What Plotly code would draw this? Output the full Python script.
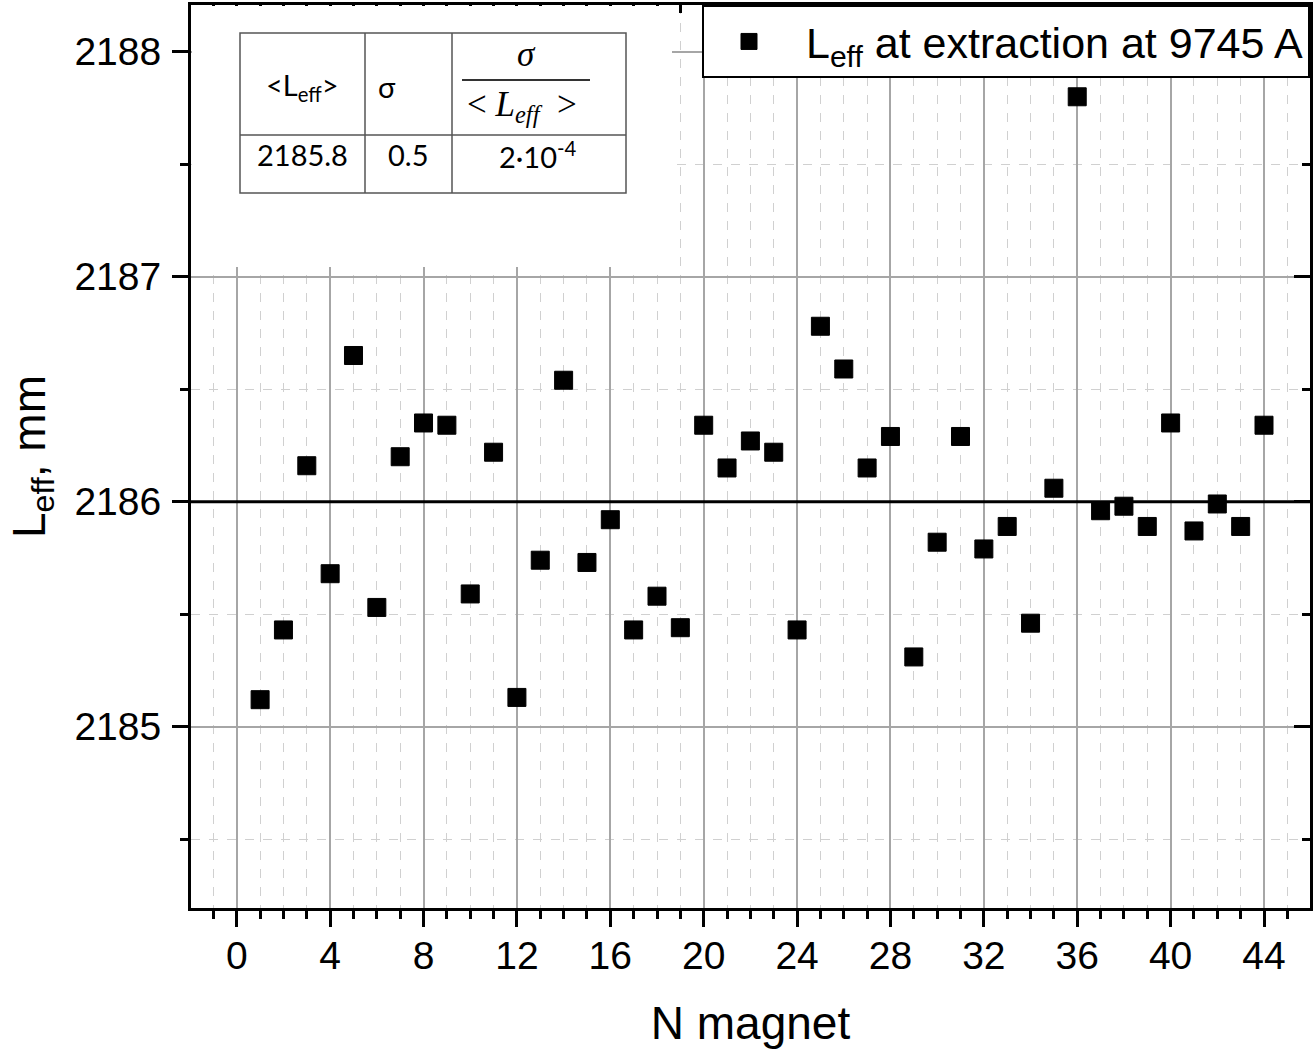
import plotly.graph_objects as go

# ---------------- data ----------------
n_magnet = list(range(1, 45))
l_eff = [2185.12, 2185.43, 2186.16, 2185.68, 2186.65, 2185.53, 2186.20, 2186.35, 2186.34, 2185.59,
         2186.22, 2185.13, 2185.74, 2186.54, 2185.73, 2185.92, 2185.43, 2185.58, 2185.44, 2186.34,
         2186.15, 2186.27, 2186.22, 2185.43, 2186.78, 2186.59, 2186.15, 2186.29, 2185.31, 2185.82,
         2186.29, 2185.79, 2185.89, 2185.46, 2186.06, 2187.80, 2185.96, 2185.98, 2185.89, 2186.35,
         2185.87, 2185.99, 2185.89, 2186.34]
reference_level = 2186
x_range = [-1.96, 45.97]
y_range = [2184.194, 2188.208]
series_name = "&nbsp;L<sub>eff</sub> at extraction at 9745 A"
table_header = ["&lt;L<sub>eff</sub>&gt;", "σ"]
table_values = ["2185.8", "0.5", "2·10<sup>-4</sup>"]

W, H = 1316, 1051
L, R, T, B = 191, 1310, 5, 908


def px(p):
    return (p - L) / (R - L)


def py(p):
    return (B - p) / (B - T)


fig = go.Figure()
fig.add_trace(go.Scatter(
    x=n_magnet, y=l_eff, mode="markers", name=series_name,
    marker=dict(symbol="square", size=18, color="black", line=dict(color="black", width=1)),
))
# empty trace to anchor mirror axes
fig.add_trace(go.Scatter(x=[], y=[], xaxis="x2", yaxis="y2", showlegend=False, hoverinfo="skip"))

axis_font = dict(family="Liberation Sans, Arial, sans-serif", size=39, color="black")
title_font = dict(family="Liberation Sans, Arial, sans-serif", size=46, color="black")

fig.update_layout(
    width=W, height=H,
    margin=dict(l=L, r=W - R, t=T, b=H - B, autoexpand=False),
    paper_bgcolor="white", plot_bgcolor="white",
    xaxis=dict(
        range=x_range, tick0=0, dtick=4, ticks="outside", ticklen=16, tickwidth=3, tickcolor="black",
        showline=True, linewidth=3, linecolor="black", tickfont=axis_font, automargin=False,
        ticklabelstandoff=-5,
        showgrid=True, gridcolor="#a6a6a6", gridwidth=1.5, zeroline=False,
        title=dict(text="N magnet", font=title_font, standoff=32),
        minor=dict(tick0=0, dtick=1, ticks="outside", ticklen=8, tickwidth=3, tickcolor="black",
                   showgrid=True, gridcolor="#d0d0d0", gridwidth=1, griddash="dash"),
    ),
    yaxis=dict(
        range=y_range, tick0=2185, dtick=1, ticks="outside", ticklen=16, tickwidth=3, tickcolor="black",
        showline=True, linewidth=3, linecolor="black", tickfont=axis_font, automargin=False,
        ticklabelstandoff=3,
        showgrid=True, gridcolor="#a6a6a6", gridwidth=1.5, zeroline=False,
        title=dict(text="L<sub>eff</sub>, mm", font=title_font, standoff=15),
        minor=dict(tick0=2184.5, dtick=0.5, ticks="outside", ticklen=8, tickwidth=3, tickcolor="black",
                   showgrid=True, gridcolor="#d0d0d0", gridwidth=1, griddash="dash"),
    ),
    xaxis2=dict(
        overlaying="x", side="top", anchor="y", range=x_range, tick0=0, dtick=4, automargin=False,
        ticks="inside", ticklen=16, tickwidth=3, tickcolor="black", showticklabels=False,
        showline=True, linewidth=3, linecolor="black", showgrid=False, zeroline=False,
        minor=dict(tick0=0, dtick=1, ticks="inside", ticklen=8, tickwidth=3, tickcolor="black", showgrid=False),
    ),
    yaxis2=dict(
        overlaying="y", side="right", anchor="x", range=y_range, tick0=2185, dtick=1, automargin=False,
        ticks="inside", ticklen=16, tickwidth=3, tickcolor="black", showticklabels=False,
        showline=True, linewidth=3, linecolor="black", showgrid=False, zeroline=False,
        minor=dict(tick0=2184.5, dtick=0.5, ticks="inside", ticklen=8, tickwidth=3, tickcolor="black", showgrid=False),
    ),
    legend=dict(
        x=1, xanchor="right", y=1, yanchor="top",
        bgcolor="white", bordercolor="black", borderwidth=2,
        font=dict(family="Liberation Sans, Arial, sans-serif", size=43, color="black"),
        itemwidth=80,
    ),
    showlegend=True,
)

shapes = []
# reference line at 2186
shapes.append(dict(type="line", xref="paper", yref="y", x0=0, x1=1, y0=reference_level, y1=reference_level,
                   line=dict(color="black", width=3), layer="above"))
# white area behind the table (covers grid)
shapes.append(dict(type="rect", xref="paper", yref="paper", x0=px(L + 1), x1=px(672), y0=py(267), y1=py(T + 1),
                   fillcolor="white", line=dict(width=0), layer="above"))
# table borders
tcol = "#555555"
shapes.append(dict(type="rect", xref="paper", yref="paper", x0=px(240), x1=px(626), y0=py(193), y1=py(33),
                   fillcolor="white", line=dict(color=tcol, width=1.5), layer="above"))
for xv in (365, 452):
    shapes.append(dict(type="line", xref="paper", yref="paper", x0=px(xv), x1=px(xv), y0=py(193), y1=py(33),
                       line=dict(color=tcol, width=1.5), layer="above"))
shapes.append(dict(type="line", xref="paper", yref="paper", x0=px(240), x1=px(626), y0=py(135), y1=py(135),
                   line=dict(color=tcol, width=1.5), layer="above"))
# fraction bar
shapes.append(dict(type="line", xref="paper", yref="paper", x0=px(462), x1=px(590), y0=py(80), y1=py(80),
                   line=dict(color="#333333", width=2), layer="above"))
fig.update_layout(shapes=shapes)

tfont = dict(family="Lato, Open Sans, sans-serif", size=29, color="black")
mfont = dict(family="Liberation Serif, DejaVu Serif, serif", size=35, color="black")
ann = [
    dict(x=px(302), y=py(86), text=table_header[0], font=tfont),
    dict(x=px(376), y=py(86), text=table_header[1], font=tfont, xanchor="left"),
    dict(x=px(526), y=py(55), text="<i>σ</i>", font=mfont),
    dict(x=px(522), y=py(106), text="&lt;&nbsp;<i>L<sub>eff</sub></i>&nbsp;&nbsp;&gt;", font=mfont),
    dict(x=px(302), y=py(155), text=table_values[0], font=tfont),
    dict(x=px(408), y=py(155), text=table_values[1], font=tfont),
    dict(x=px(538), y=py(155), text=table_values[2], font=tfont),
]
for a in ann:
    a.update(xref="paper", yref="paper", showarrow=False)
    a.setdefault("xanchor", "center")
    a["yanchor"] = "middle"
fig.update_layout(annotations=ann)

fig.write_html("out.html")
